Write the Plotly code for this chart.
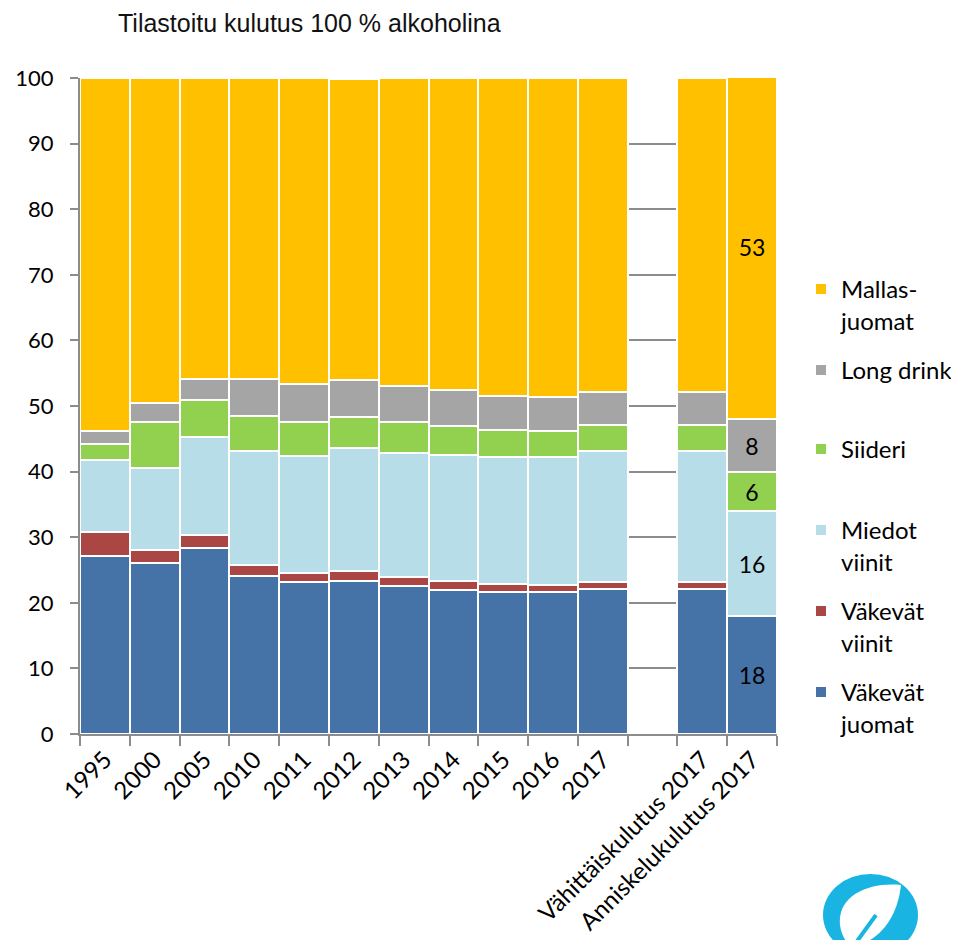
import plotly.graph_objects as go

categories = ["1995", "2000", "2005", "2010", "2011", "2012", "2013", "2014", "2015",
              "2016", "2017", " ", "Vähittäiskulutus 2017", "Anniskelukulutus 2017"]

vakevat_juomat = [27.2, 26.0, 28.3, 24.1, 23.2, 23.4, 22.5, 22.0, 21.7, 21.6, 22.1, None, 22.1, 18.0]
vakevat_viinit = [3.6, 2.0, 2.0, 1.7, 1.4, 1.4, 1.5, 1.4, 1.2, 1.1, 1.0, None, 1.0, 0.0]
miedot_viinit = [11.0, 12.5, 14.9, 17.4, 17.8, 18.8, 18.9, 19.2, 19.3, 19.5, 20.0, None, 20.0, 16.0]
siideri = [2.4, 7.0, 5.7, 5.3, 5.1, 4.7, 4.6, 4.4, 4.1, 4.0, 4.0, None, 4.0, 6.0]
long_drink = [2.0, 3.0, 3.2, 5.6, 5.8, 5.7, 5.5, 5.4, 5.2, 5.2, 5.0, None, 5.0, 8.0]
mallasjuomat = [53.8, 49.5, 45.9, 45.9, 46.7, 45.8, 47.0, 47.6, 48.5, 48.6, 47.9, None, 47.9, 52.6]

labelled_category = "Anniskelukulutus 2017"

series = [
    ("Väkevät<br>juomat", vakevat_juomat, "#4572A7", "legend6"),
    ("Väkevät<br>viinit", vakevat_viinit, "#AA4643", "legend5"),
    ("Miedot<br>viinit", miedot_viinit, "#B7DDE8", "legend4"),
    ("Siideri", siideri, "#92D050", "legend3"),
    ("Long drink", long_drink, "#A5A5A5", "legend2"),
    ("Mallas-<br>juomat", mallasjuomat, "#FFC000", "legend"),
]

# the page body has an 8px margin; work in page pixels and convert
OFF = 8
W, H = 959 - OFF, 940 - OFF
L, R, T, B = 80 - OFF, 777 - OFF, 78 - OFF, 734 - OFF


def px_x(p):
    return (p - OFF - L) / (R - L)


def px_y(p):
    return (B - (p - OFF)) / (B - T)


fig = go.Figure()
for name, vals, color, leg in series:
    texts = [("%.0f" % v) if (c == labelled_category and v) else "" for c, v in zip(categories, vals)]
    fig.add_trace(go.Bar(
        x=categories, y=vals, name=name, legend=leg,
        marker=dict(color=color, line=dict(color="white", width=2)),
        text=texts, textposition="inside", insidetextanchor="middle", textangle=0,
        textfont=dict(family="Lato", size=23, color="black"),
        hoverinfo="skip",
    ))

legend_centers = {"legend": 288, "legend2": 369, "legend3": 448,
                  "legend4": 529, "legend5": 610, "legend6": 691}
legend_layout = {}
for leg, cy in legend_centers.items():
    legend_layout[leg] = dict(
        x=px_x(801), xanchor="left", y=px_y(cy - 21), yanchor="top",
        valign="top", bgcolor="rgba(0,0,0,0)", borderwidth=0,
        font=dict(family="Lato", size=24, color="black"),
    )


def pt(x, y):
    return "%.4f,%.4f" % (px_x(x), px_y(y))


leaf = ("M " + pt(901, 885) + " C " + pt(868, 882) + " " + pt(837, 896) + " " + pt(840, 925)
        + " C " + pt(841, 934) + " " + pt(845, 940) + " " + pt(848, 944)
        + " L " + pt(863, 944) + " C " + pt(886, 933) + " " + pt(898, 912) + " " + pt(901, 885) + " Z")

shapes = [
    dict(type="circle", xref="paper", yref="paper",
         x0=px_x(823), x1=px_x(918), y0=px_y(956), y1=px_y(874),
         fillcolor="#1AB4E3", line=dict(width=0), layer="above"),
    dict(type="path", xref="paper", yref="paper", path=leaf,
         fillcolor="white", line=dict(width=0), layer="above"),
    dict(type="line", xref="paper", yref="paper",
         x0=px_x(876), y0=px_y(915), x1=px_x(855), y1=px_y(944),
         line=dict(color="#1AB4E3", width=4), layer="above"),
]

fig.update_layout(
    width=W, height=H,
    margin=dict(l=L, r=W - R, t=T, b=H - B, autoexpand=False),
    barmode="stack", bargap=0,
    plot_bgcolor="white", paper_bgcolor="white",
    title=dict(text="Tilastoitu kulutus 100 % alkoholina", x=(118 - OFF) / W, xanchor="left",
               y=1 - (23 - OFF) / H, yanchor="middle",
               font=dict(family="Liberation Sans, Arial", size=25, color="#111111")),
    showlegend=True,
    shapes=shapes,
    **legend_layout,
)

fig.update_yaxes(range=[0, 100], tickvals=list(range(0, 101, 10)),
                 showgrid=True, gridcolor="#8C8C8C", gridwidth=2, zeroline=False,
                 showline=True, linecolor="#8C8C8C", linewidth=2,
                 ticks="outside", ticklen=8, tickwidth=2, tickcolor="#8C8C8C",
                 ticklabelstandoff=12,
                 tickfont=dict(family="Lato", size=22, color="black"))
fig.update_xaxes(type="category", categoryorder="array", categoryarray=categories,
                 showline=True, linecolor="#8C8C8C", linewidth=2,
                 ticks="outside", tickson="boundaries", ticklen=10, tickwidth=2,
                 tickcolor="#8C8C8C", tickangle=-45,
                 tickfont=dict(family="Lato", size=24, color="black"))

fig.write_html("out.html")
